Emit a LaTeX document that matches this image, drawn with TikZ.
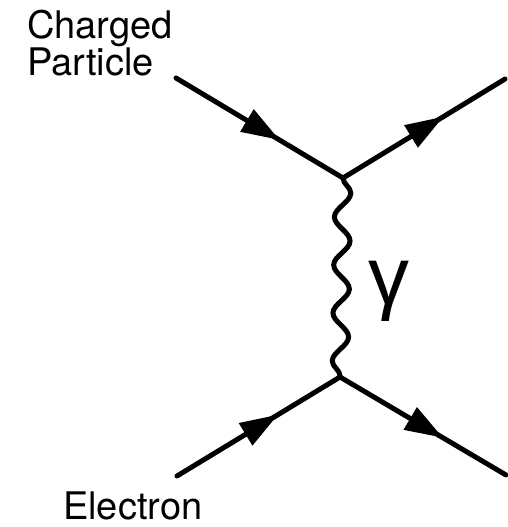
\documentclass[tikz,border=0pt]{standalone}
\usepackage{fontspec}
\setmainfont{TeX Gyre Heros}
\newfontfamily\greekfont{Liberation Sans}
\usetikzlibrary{arrows.meta,decorations.markings,decorations.pathmorphing}
\begin{document}
\begin{tikzpicture}[x=1pt,y=-1pt,
  fermion/.style={line width=5pt,line cap=round,
    postaction={decorate,decoration={markings,
      mark=at position 0.62 with {\arrow{Triangle[length=38pt,width=25pt]}}}}},
  photon/.style={line width=5pt,line cap=round,decorate,
    decoration={snake,segment length=48pt,amplitude=8pt}},
  lbl/.style={inner sep=0pt,font=\fontsize{38}{37}\selectfont}]
\useasboundingbox (0,0) rectangle (508,527);
\coordinate (a) at (176,78);
\coordinate (b) at (505,79);
\coordinate (v1) at (343,178);
\coordinate (v2) at (340,377);
\coordinate (c) at (177,476);
\coordinate (d) at (506,475);
\draw[fermion] (a) -- (v1);
\draw[fermion] (v1) -- (b);
\draw[fermion] (c) -- (v2);
\draw[fermion] (v2) -- (d);
\draw[photon] (v1) -- (v2);
\node[lbl,anchor=base west] (t1) at (27,38) {Charged};
\node[lbl,anchor=base west] (t2) at (27,75) {Particle};
\node[lbl,anchor=base west] (t3) at (63,519) {Electron};
\node[inner sep=0pt,font=\greekfont\fontsize{82}{82}\selectfont] (g) at (389,291) {γ};
\end{tikzpicture}
\end{document}
